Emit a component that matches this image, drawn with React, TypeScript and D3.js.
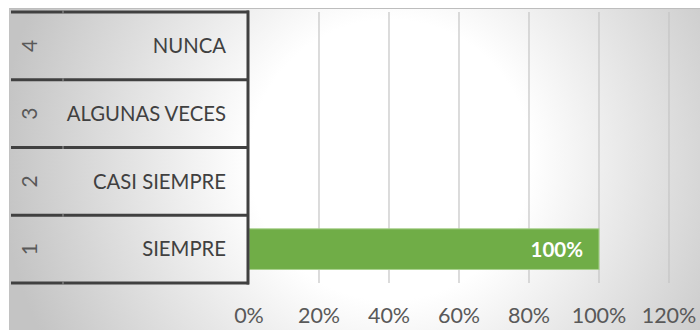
import React from "react";
import * as d3 from "d3";

const categories = ["NUNCA", "ALGUNAS VECES", "CASI SIEMPRE", "SIEMPRE"];
const codes = ["4", "3", "2", "1"];
const values = [0, 0, 0, 1];
const ticks = [0, 0.2, 0.4, 0.6, 0.8, 1.0, 1.2];

const W = 700;
const H = 330;
const FONT = "Lato, 'Open Sans', sans-serif";

export default function App() {
  const x = d3.scaleLinear().domain([0, 1.2]).range([249, 669]);
  const y = d3
    .scaleBand<string>()
    .domain(categories)
    .range([12, 283])
    .paddingInner(0.4)
    .paddingOuter(0.2);
  const rowEdges = [0, 1, 2, 3, 4].map((i) => 12 + i * ((283 - 12) / 4));
  const fmt = d3.format(".0%");

  return (
    <svg
      width={W}
      height={H}
      style={{ position: "absolute", left: 0, top: 0, fontFamily: FONT }}
    >
      <defs>
        <radialGradient
          id="bg"
          gradientUnits="userSpaceOnUse"
          cx={390}
          cy={160}
          r={390}
        >
          <stop offset="0" stopColor="#ffffff" />
          <stop offset="0.36" stopColor="#ffffff" />
          <stop offset="1" stopColor="#c4c4c4" />
        </radialGradient>
      </defs>
      <rect x={0} y={0} width={W} height={H} fill="#ffffff" />
      <rect x={9} y={8} width={W - 9} height={H - 8} fill="url(#bg)" />
      <line x1={9} x2={W} y1={8.5} y2={8.5} stroke="#bdbdbd" strokeWidth={1} />
      <line x1={9.5} x2={9.5} y1={8} y2={H} stroke="#c2c2c2" strokeWidth={1} />

      {/* gridlines */}
      {ticks.slice(1).map((t) => (
        <line
          key={t}
          x1={x(t)}
          x2={x(t)}
          y1={12}
          y2={283}
          stroke="#c4c4c4"
          strokeWidth={1.2}
        />
      ))}

      {/* bars */}
      {values.map((v, i) =>
        v > 0 ? (
          <g key={i}>
            <rect
              x={x(0)}
              y={y(categories[i])!}
              width={x(v) - x(0)}
              height={y.bandwidth()}
              fill="#70ad47"
              stroke="#a9d18e"
              strokeWidth={1}
            />
            <text
              x={x(v) - 16}
              y={y(categories[i])! + y.bandwidth() / 2}
              dy="0.36em"
              textAnchor="end"
              fill="#ffffff"
              fontWeight="bold"
              fontSize={20.5}
            >
              {fmt(v)}
            </text>
          </g>
        ) : null
      )}

      {/* table axis */}
      {rowEdges.map((ry, i) => (
        <g key={i}>
          <line x1={11} x2={249} y1={ry} y2={ry} stroke="#404040" strokeWidth={3} />
          <line x1={63} x2={63} y1={ry - 1.5} y2={ry + 1.5} stroke="#9a9a9a" strokeWidth={1} />
        </g>
      ))}
      <line x1={248} x2={248} y1={10.5} y2={284.5} stroke="#404040" strokeWidth={3} />

      {categories.map((c, i) => {
        const cy = y(c)! + y.bandwidth() / 2;
        return (
          <g key={c}>
            <text
              transform={`translate(29,${cy}) rotate(-90)`}
              textAnchor="middle"
              dy="0.36em"
              fill="#595959"
              fontSize={21}
            >
              {codes[i]}
            </text>
            <text
              x={226}
              y={cy}
              dy="0.36em"
              textAnchor="end"
              fill="#404040"
              fontSize={20.3}
            >
              {c}
            </text>
          </g>
        );
      })}

      {/* x tick labels */}
      {ticks.map((t) => (
        <text
          key={t}
          x={x(t)}
          y={315}
          dy="0.36em"
          textAnchor="middle"
          fill="#595959"
          fontSize={21.5}
        >
          {fmt(t)}
        </text>
      ))}
    </svg>
  );
}
